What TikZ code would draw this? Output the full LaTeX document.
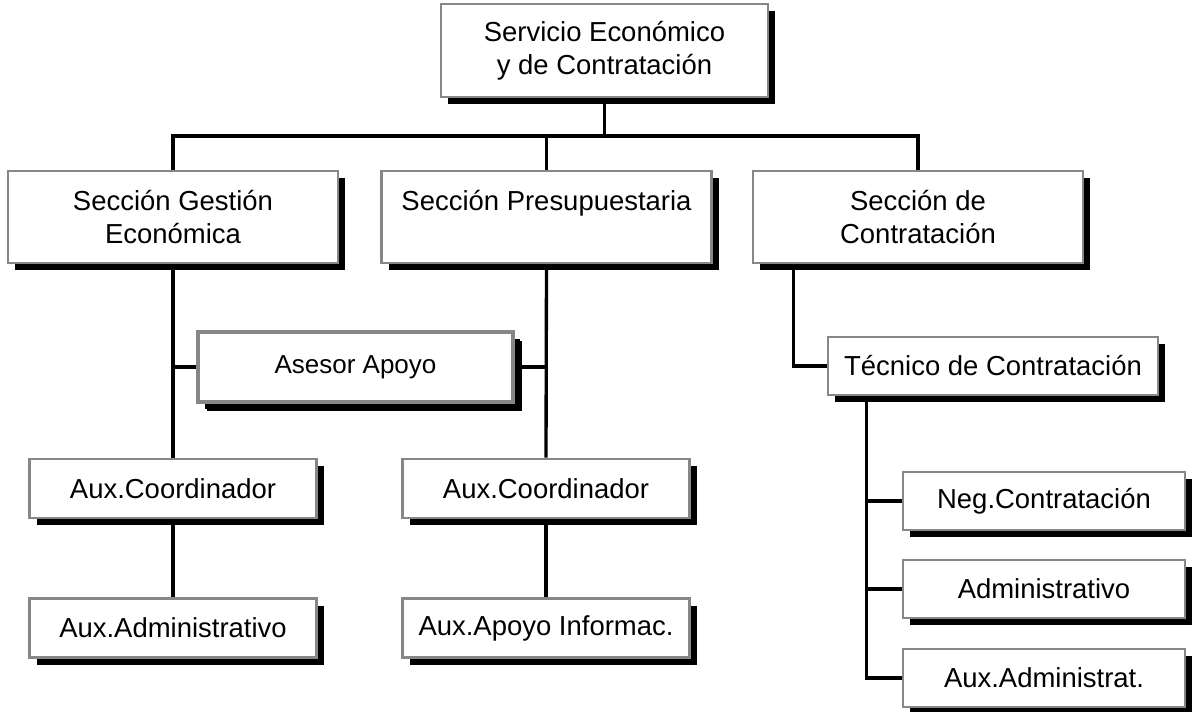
\documentclass[tikz,border=0pt]{standalone}
\usepackage{fontspec}
\setmainfont{Liberation Sans}
\usetikzlibrary{shadows,backgrounds,calc}
\definecolor{boxgray}{RGB}{135,135,135}
\tikzset{
  orgbox/.style={draw=boxgray, line width=2.2pt, fill=white, inner sep=0pt, align=center,
    font=\fontsize{20.6}{24.5}\selectfont,
    drop shadow={fill=black, opacity=1, shadow xshift=5.5pt, shadow yshift=-5.5pt}},
  bigbox/.style={orgbox, minimum width=247.5pt, minimum height=69pt},
  smallbox/.style={orgbox, minimum width=215.25pt, minimum height=44.25pt},
  rbox/.style={orgbox, minimum width=211.5pt, minimum height=43.5pt},
  link/.style={line width=2.5pt, black}
}
\begin{document}
\begin{tikzpicture}[x=0.75pt, y=-0.75pt]
\useasboundingbox (0,0) rectangle (1197,712);
\node[bigbox, minimum width=245.25pt, minimum height=69.75pt] (top) at (604.5,50.5) {Servicio Económico\\y de Contratación};
\node[bigbox] (ges) at (173,217) {Sección Gestión\\Económica};
\node[bigbox] (pre) at (546.5,217) {Sección Presupuestaria\\\mbox{}};
\node[bigbox] (con) at (918,217) {Sección de\\Contratación};
\node[orgbox, line width=3pt, minimum width=236.25pt, minimum height=52.5pt,
  font=\fontsize{19.5}{23}\selectfont,
  drop shadow={fill=black, opacity=1, shadow xshift=7pt, shadow yshift=-7pt}] (ase) at (355.5,367) {Asesor Apoyo};
\node[orgbox, minimum width=247.5pt, minimum height=43.5pt] (tec) at (993,366) {Técnico de Contratación};
\node[smallbox] (coa) at (173,488.5) {Aux.Coordinador};
\node[smallbox] (cob) at (546,488.5) {Aux.Coordinador};
\node[smallbox] (ada) at (173,628) {Aux.Administrativo};
\node[smallbox] (apb) at (546,628) {Aux.Apoyo Informac.};
\node[rbox] (neg) at (1044,501) {Neg.Contratación};
\node[rbox] (adm) at (1044,589) {Administrativo};
\node[rbox] (aux) at (1044,678) {Aux.Administrat.};
\coordinate (bus) at (0,136);
\begin{pgfonlayer}{background}
\draw[link] (top.south) -- (top.south |- bus);
\draw[link] (ges.north) |- (con.north |- bus) -- (con.north);
\draw[link] (pre.north) -- (pre.north |- bus);
\draw[link] (ges.south) -- (coa.north);
\draw[link] (coa.south) -- (ada.north);
\draw[link] (pre.south) -- (cob.north);
\draw[link] (cob.south) -- (apb.north);
\draw[link] (ase.west) -- (ase.west -| ges.south);
\draw[link] (ase.east) -- (ase.east -| pre.south);
\draw[link] ([xshift=31.5pt]con.south west) |- (tec.west);
\coordinate (tx) at ([xshift=30pt]tec.south west);
\draw[link] (tx) |- (aux.west);
\draw[link] (neg.west) -- (neg.west -| tx);
\draw[link] (adm.west) -- (adm.west -| tx);
\end{pgfonlayer}
\end{tikzpicture}
\end{document}
